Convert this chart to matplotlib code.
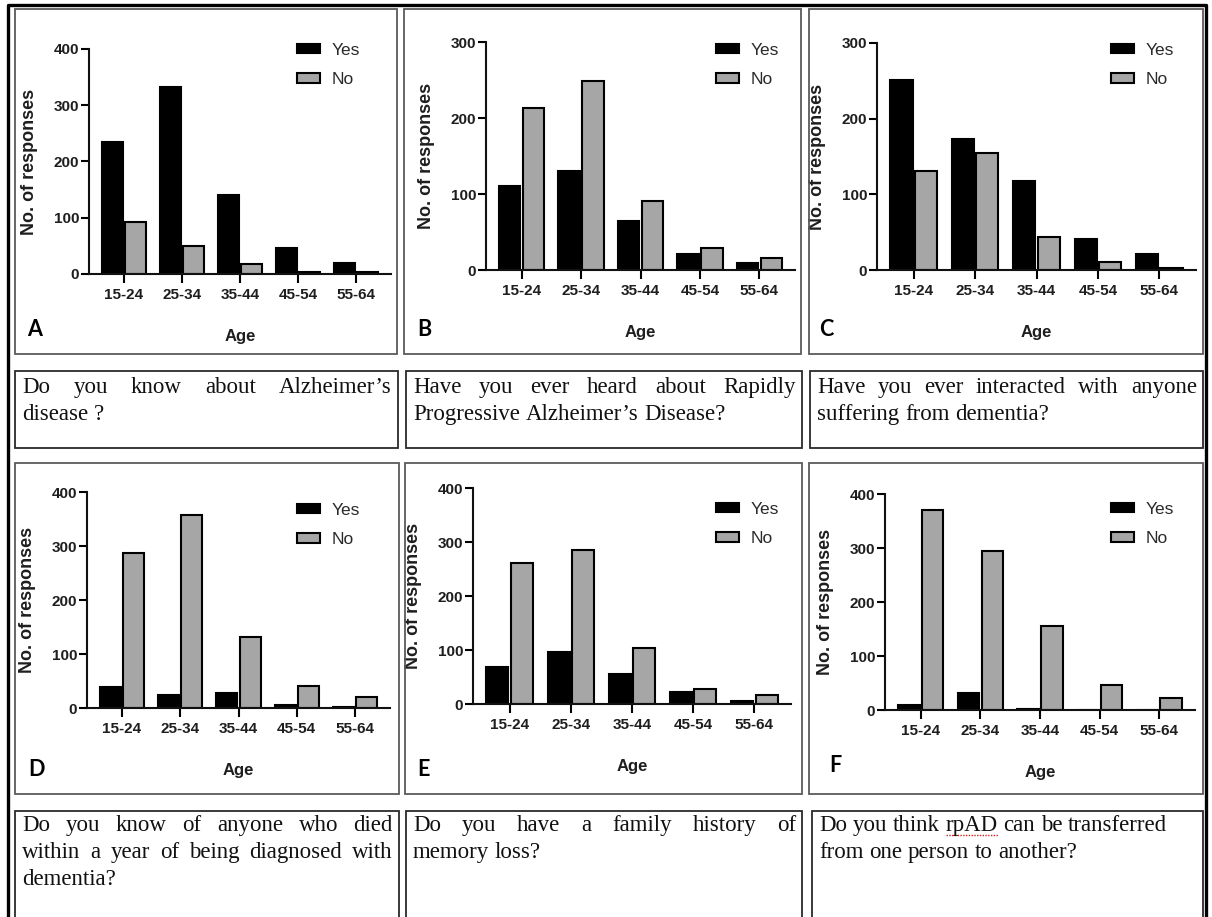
import matplotlib
matplotlib.use('Agg')
import matplotlib.pyplot as plt
from matplotlib.patches import Rectangle
from matplotlib.lines import Line2D
import numpy as np

# data (number of responses per age group)
ages = ['15-24', '25-34', '35-44', '45-54', '55-64']

yes_a = [235, 333, 141, 46, 19]
no_a = [93, 49, 17, 4, 4]
yes_b = [111, 130, 65, 21, 9]
no_b = [213, 249, 91, 29, 16]
yes_c = [251, 173, 117, 41, 21]
no_c = [131, 154, 43, 10, 2]
yes_d = [38, 25, 27, 6, 2]
no_d = [287, 357, 131, 40, 20]
yes_e = [68, 97, 56, 22, 6]
no_e = [261, 285, 103, 27, 16]
yes_f = [9, 32, 2, 0, 0]
no_f = [371, 295, 155, 47, 23]

yes_all = [yes_a, yes_b, yes_c, yes_d, yes_e, yes_f]
no_all = [no_a, no_b, no_c, no_d, no_e, no_f]
y_top = [400, 300, 300, 400, 400, 400]
letters = ['A', 'B', 'C', 'D', 'E', 'F']

questions = [
    ["Do you know about Alzheimer’s", "disease ?"],
    ["Have you ever heard about Rapidly", "Progressive Alzheimer’s Disease?"],
    ["Have you ever interacted with anyone", "suffering from dementia?"],
    ["Do you know of anyone who died", "within a year of being diagnosed with", "dementia?"],
    ["Do you have a family history of", "memory loss?"],
    ["Do you think rpAD can be transferred", "from one person to another?"],
]
n_justified = [1, 1, 1, 2, 1, 0]

W, H = 1212, 917
fig = plt.figure(figsize=(W / 100, H / 100), dpi=100)
fig.patch.set_facecolor('white')


def fx(x):
    return x / W


def fy(y):
    return 1 - y / H


# layout in pixels (left, top, right, bottom)
axes_px = [(89, 49, 391, 274), (486, 42, 795, 270), (877, 43, 1196, 270),
           (87, 492, 390, 708), (473, 488, 791, 704), (885, 494, 1195, 710)]
legend_px = [(297, 65), (716, 65), (1111, 65), (297, 525), (716, 524), (1111, 524)]
letter_px = [(35, 330), (424, 330), (826, 330), (37, 769), (423, 770), (835, 765)]
panel_box = [(15, 9, 397, 354), (404, 9, 801, 354), (809, 9, 1203, 354),
             (15, 463, 399, 794), (405, 463, 802, 794), (809, 463, 1203, 794)]
cap_box = [(15, 371, 398, 448), (406, 371, 802, 448), (810, 371, 1203, 448),
           (15, 811, 399, 940), (406, 811, 802, 940), (812, 811, 1203, 940)]
cap_lines_y = [[386, 413], [386, 413], [386, 413],
               [824, 851, 878], [824, 851, 878], [824, 851, 878]]

sans = ['Liberation Sans', 'DejaVu Sans']
serif = ['Liberation Serif', 'DejaVu Serif']

# boxes around panels and captions
for (l, t, r, b) in panel_box:
    fig.add_artist(Rectangle((fx(l), fy(b)), fx(r - l), (b - t) / H, transform=fig.transFigure,
                             fill=False, edgecolor='#5a5a5a', lw=1.3))
for (l, t, r, b) in cap_box:
    fig.add_artist(Rectangle((fx(l), fy(b)), fx(r - l), (b - t) / H, transform=fig.transFigure,
                             fill=False, edgecolor='#2a2a2a', lw=1.3))

# outer frame (left, top, right)
fig.add_artist(Line2D([fx(8), fx(8), fx(1206), fx(1206)], [0, fy(5), fy(5), 0],
                      transform=fig.transFigure, color='black', lw=2.4))

x = np.arange(len(ages))
for i in range(6):
    l, t, r, b = axes_px[i]
    ax = fig.add_axes([fx(l), fy(b), fx(r - l), (b - t) / H])
    ax.bar(x - 0.2, yes_all[i], 0.36, color='black', edgecolor='black', lw=1.5, label='Yes')
    ax.bar(x + 0.2, no_all[i], 0.36, color='#a6a6a6', edgecolor='black', lw=1.5, label='No')
    ax.set_xlim(-0.6, 4.6)
    ax.set_ylim(0, y_top[i])
    ax.set_yticks(np.arange(0, y_top[i] + 1, 100))
    ax.set_xticks(x)
    ax.set_xticklabels(ages)
    ax.patch.set_alpha(0)
    for s in ['top', 'right']:
        ax.spines[s].set_visible(False)
    for s in ['left', 'bottom']:
        ax.spines[s].set_linewidth(1.5)
        ax.spines[s].set_color('#111111')
    ax.tick_params(axis='x', direction='out', length=6.5, width=1.5, pad=3.5,
                   labelsize=11, labelcolor='#1e1e1e')
    ax.tick_params(axis='y', direction='out', length=6, width=1.5, pad=1,
                   labelsize=11, labelcolor='#1e1e1e')
    for lab in ax.get_xticklabels() + ax.get_yticklabels():
        lab.set_fontweight('bold')
        lab.set_family(sans)
    ax.set_ylabel('No. of responses', fontsize=13, fontweight='bold', family=sans, color='#1e1e1e')
    ax.yaxis.set_label_coords(-51 / (r - l), 0.5)
    ax.set_xlabel('Age', fontsize=12, fontweight='bold', family=sans, color='#1e1e1e')
    ax.xaxis.set_label_coords(0.5, -55 / (b - t))

    lx, ly = legend_px[i]
    ax.legend(loc='center left', bbox_to_anchor=(fx(lx), fy(ly)), bbox_transform=fig.transFigure,
              frameon=False, borderpad=0, borderaxespad=0, handlelength=1.3, handleheight=0.5,
              handletextpad=0.7, labelspacing=0.85, prop={'family': sans, 'size': 12.5},
              labelcolor='#2a2a2a')

    px_, py_ = letter_px[i]
    fig.text(fx(px_), fy(py_), letters[i], fontsize=15.5, fontweight='bold', family=['Lato', 'DejaVu Sans'],
             ha='center', va='center', color='black')

# captions, justified like the original word-processor boxes
renderer = fig.canvas.get_renderer()
for i in range(6):
    l, t, r, b = cap_box[i]
    x0 = l + 7
    x1 = r - 6
    for k, line in enumerate(questions[i]):
        base = cap_lines_y[i][k] + 7
        words = line.split(' ')
        texts = [fig.text(0, fy(base), w, fontsize=16.5, family=serif, color='#111111',
                          ha='left', va='baseline') for w in words]
        widths = [tx.get_window_extent(renderer=renderer).width for tx in texts]
        space = texts[0].get_fontsize() * 100 / 72 * 0.25
        if k < n_justified[i] and len(words) > 1:
            gap = (x1 - x0 - sum(widths)) / (len(words) - 1)
        else:
            gap = space
        cx = x0
        for tx, wd, w in zip(texts, widths, words):
            tx.set_x(fx(cx))
            if w == 'rpAD':
                fig.add_artist(Line2D([fx(cx), fx(cx + wd)], [fy(base + 4), fy(base + 4)],
                                      transform=fig.transFigure, color='#d02020', lw=1.0,
                                      linestyle=(0, (1, 1))))
            cx += wd + gap

fig.savefig('out.png', dpi=100, facecolor='white')
